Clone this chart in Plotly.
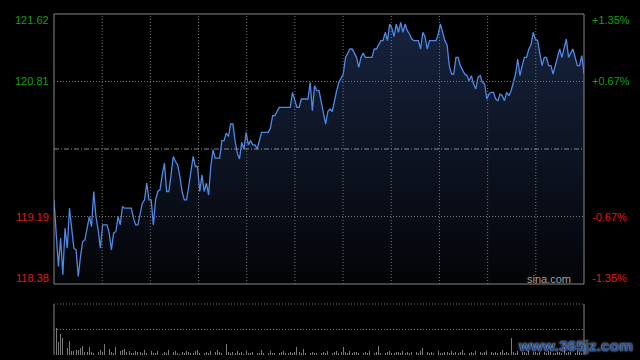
import plotly.graph_objects as go

# ---- data ----
price = [
    119.39, 118.95, 118.59, 118.93, 118.49, 119.05, 118.81, 119.29, 119.03, 118.81,
    118.79, 118.47, 118.71, 118.89, 118.91, 119.05, 119.19, 119.07, 119.49, 119.19,
    119.03, 118.81, 119.09, 119.09, 119.09, 118.99, 118.79, 118.99, 119.01, 119.19,
    119.09, 119.31, 119.29, 119.29, 119.29, 119.29, 119.17, 119.09, 119.09, 119.23,
    119.35, 119.39, 119.59, 119.39, 119.39, 119.09, 119.39, 119.49, 119.51, 119.69,
    119.83, 119.49, 119.49, 119.69, 119.91, 119.85, 119.81, 119.67, 119.49, 119.39,
    119.39, 119.55, 119.71, 119.91, 119.79, 119.79, 119.49, 119.69, 119.49, 119.59,
    119.45, 119.79, 119.99, 119.89, 119.89, 119.89, 120.10, 120.10, 120.19, 120.15,
    120.30, 120.30, 120.10, 119.95, 119.88, 120.08, 120.00, 120.20, 120.05, 120.10,
    120.05, 120.05, 120.00, 120.10, 120.20, 120.20, 120.20, 120.20, 120.25, 120.40,
    120.40, 120.45, 120.50, 120.50, 120.50, 120.50, 120.50, 120.50, 120.68, 120.60,
    120.50, 120.50, 120.60, 120.60, 120.60, 120.60, 120.80, 120.46, 120.76, 120.70,
    120.70, 120.58, 120.45, 120.30, 120.45, 120.48, 120.45, 120.60, 120.70, 120.80,
    120.85, 120.90, 121.10, 121.15, 121.20, 121.20, 121.15, 121.10, 120.98, 121.10,
    121.15, 121.10, 121.10, 121.10, 121.10, 121.20, 121.20, 121.25, 121.30, 121.30,
    121.40, 121.30, 121.50, 121.45, 121.35, 121.50, 121.40, 121.52, 121.40, 121.50,
    121.42, 121.38, 121.32, 121.30, 121.30, 121.30, 121.20, 121.40, 121.35, 121.20,
    121.30, 121.30, 121.30, 121.30, 121.38, 121.50, 121.40, 121.30, 121.25, 121.00,
    120.90, 120.90, 121.10, 121.10, 121.00, 120.95, 120.90, 120.88, 120.82, 120.88,
    120.78, 120.72, 120.86, 120.88, 120.80, 120.78, 120.60, 120.66, 120.68, 120.68,
    120.60, 120.58, 120.66, 120.64, 120.58, 120.68, 120.64, 120.70, 120.80, 120.90,
    121.08, 120.88, 121.00, 121.10, 121.10, 121.20, 121.25, 121.40, 121.32, 121.30,
    121.15, 121.00, 121.10, 121.10, 121.00, 121.00, 120.90, 121.00, 121.10, 121.20,
    121.10, 121.20, 121.32, 121.10, 121.15, 121.20, 121.10, 121.00, 121.00, 121.12,
    120.90,
]

volume = [
    88, 52, 26, 42, 33, 13, 13, 28, 7, 8,
    10, 10, 14, 18, 5, 5, 16, 5, 4, 13,
    6, 10, 5, 21, 9, 12, 5, 4, 15, 11,
    8, 9, 12, 5, 7, 4, 3, 8, 5, 6,
    4, 9, 3, 6, 8, 4, 3, 7, 5, 2,
    6, 4, 9, 3, 5, 7, 4, 2, 6, 3,
    8, 5, 4, 3, 7, 9, 4, 5, 3, 6,
    4, 8, 3, 5, 10, 6, 4, 9, 22, 5,
    3, 6, 4, 7, 3, 5, 2, 8, 4, 3,
    6, 5, 3, 4, 9, 3, 5, 4, 7, 3,
    4, 6, 3, 5, 8, 4, 3, 6, 4, 5,
    15, 6, 3, 12, 4, 5, 3, 6, 4, 3,
    5, 4, 6, 3, 7, 4, 3, 5, 8, 4,
    6, 15, 5, 4, 7, 3, 5, 6, 4, 8,
    3, 5, 4, 7, 6, 3, 5, 18, 4, 6,
    3, 5, 7, 4, 3, 6, 5, 4, 8, 3,
    5, 4, 6, 3, 5, 4, 7, 14, 4, 5,
    3, 6, 4, 5, 8, 3, 4, 6, 5, 3,
    7, 4, 5, 3, 6, 9, 4, 5, 3, 6,
    4, 7, 3, 5, 4, 6, 8, 3, 5, 4,
    6, 3, 5, 9, 4, 6, 3, 33, 5, 4,
    7, 3, 6, 5, 4, 8, 3, 5, 6, 4,
    5, 3, 6, 4, 7, 5, 3, 4, 6, 5,
    4, 8, 3, 5, 6, 4, 3, 7, 5, 4,
    6,
]

prev_close = 120.00
price_ticks = [121.62, 120.81, 119.19, 118.38]
pct_ticks = ["+1.35%", "+0.67%", "-0.67%", "-1.35%"]
tick_colors = ["#11a011", "#11a011", "#e01a10", "#e01a10"]

minutes = list(range(len(price)))
y_lo, y_hi = 118.38, 121.62

fig = go.Figure()
fig.add_trace(go.Scatter(
    x=minutes, y=price, mode="lines",
    line=dict(color="#4f88e6", width=1.3),
    fill="tozeroy",
    fillgradient=dict(type="vertical",
                      colorscale=[[0, "#030407"], [1, "#17243f"]],
                      start=y_lo, stop=y_hi),
    xaxis="x", yaxis="y", hoverinfo="skip", showlegend=False,
))
fig.add_trace(go.Bar(
    x=minutes, y=volume, marker=dict(color="#7a7a7a", line=dict(width=0)),
    width=0.4, xaxis="x2", yaxis="y2", hoverinfo="skip", showlegend=False,
))

W, H = 640, 360
xd = [54 / W, 584 / W]
ax_common = dict(showgrid=False, zeroline=False, showticklabels=False,
                 ticks="", showline=False, fixedrange=True)
fig.update_layout(
    width=W, height=H,
    margin=dict(l=0, r=0, t=0, b=0),
    paper_bgcolor="#000000", plot_bgcolor="rgba(0,0,0,0)",
    xaxis=dict(domain=xd, range=[0, 240], anchor="y", **ax_common),
    yaxis=dict(domain=[1 - 284 / H, 1 - 14 / H], range=[y_lo, y_hi], anchor="x", **ax_common),
    xaxis2=dict(domain=xd, range=[0, 240], anchor="y2", **ax_common),
    yaxis2=dict(domain=[1 - 355 / H, 1 - 304 / H], range=[0, 100], anchor="x2", **ax_common),
    bargap=0,
)

grid = dict(color="#767676", width=1, dash="1px,2px")
shapes = []
shapes.append(dict(type="rect", xref="x domain", yref="y domain", x0=0, x1=1, y0=0, y1=1,
                   line=dict(color="#858585", width=1), layer="above"))
for k in range(1, 11):
    shapes.append(dict(type="line", xref="x domain", yref="y domain", x0=k / 11, x1=k / 11,
                       y0=0, y1=1, line=grid, layer="above"))
for v in (price_ticks[1], price_ticks[2]):
    shapes.append(dict(type="line", xref="x domain", yref="y", x0=0, x1=1, y0=v, y1=v,
                       line=grid, layer="above"))
shapes.append(dict(type="line", xref="x domain", yref="y", x0=0, x1=1, y0=prev_close, y1=prev_close,
                   line=dict(color="#8a8a8a", width=1, dash="5px,2px,1px,2px"), layer="above"))
for xx in (0, 1):
    shapes.append(dict(type="line", xref="x2 domain", yref="y2 domain", x0=xx, x1=xx, y0=0, y1=1,
                       line=dict(color="#858585", width=1), layer="above"))
for yy in (0.5, 1):
    shapes.append(dict(type="line", xref="x2 domain", yref="y2 domain", x0=0, x1=1, y0=yy, y1=yy,
                       line=grid, layer="above"))
fig.update_layout(shapes=shapes)

font = "Liberation Sans, Arial, sans-serif"
ann = []
shifts = [-6, 0, 0, 6]
for v, p, c, s in zip(price_ticks, pct_ticks, tick_colors, shifts):
    ann.append(dict(x=51 / W, y=v, xref="paper", yref="y", text=f"{v:.2f}", showarrow=False,
                    xanchor="right", yanchor="middle", yshift=s,
                    font=dict(family=font, size=11, color=c)))
    ann.append(dict(x=590 / W, y=v, xref="paper", yref="y", text=p, showarrow=False,
                    xanchor="left", yanchor="middle", yshift=s,
                    font=dict(family=font, size=11, color=c)))
ann.append(dict(x=573 / W, y=1 - 279 / H, xref="paper", yref="paper", text="sina.com",
                showarrow=False, xanchor="right", yanchor="middle",
                font=dict(family=font, size=11, color="#a0a0a0")))
ann.append(dict(x=575 / W, y=1 - 345 / H, xref="paper", yref="paper", text="www.365jz.com",
                showarrow=False, xanchor="center", yanchor="middle",
                font=dict(family=font, size=15.5, color="#1f4f98", weight="bold",
                          shadow="0px 0px 2px #e8e8e8")))
fig.update_layout(annotations=ann)

fig.write_html(
    "out.html",
    config={"displayModeBar": False, "staticPlot": True},
    post_script="document.body.style.margin='0';document.body.style.padding='0';"
                "document.body.style.background='#000';"
                "document.documentElement.style.background='#000';",
)
